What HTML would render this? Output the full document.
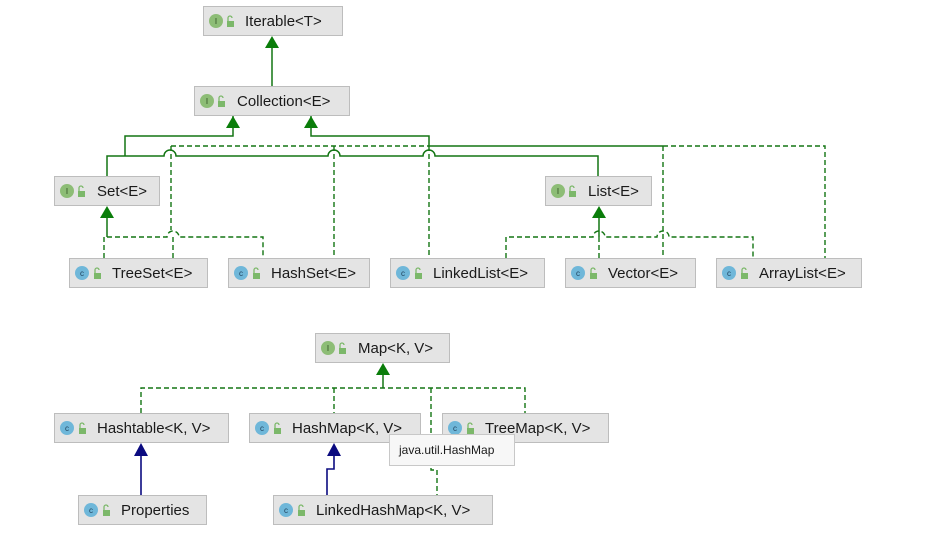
<!DOCTYPE html>
<html><head><meta charset="utf-8"><style>
html,body{margin:0;padding:0;background:#fff;}
svg{display:block;}
text{font-family:"Liberation Sans","DejaVu Sans",sans-serif;}
</style></head><body>
<svg width="941" height="551" viewBox="0 0 941 551" xmlns="http://www.w3.org/2000/svg">
<defs>
<g id="lock"><rect x="-3" y="-1" width="7" height="6" fill="#7cb86a"/><path d="M-2,-1 v-3 a2,2 0 0 1 4,0" fill="none" stroke="#7cb86a" stroke-width="1.3"/></g>
</defs>
<g fill="none" stroke="#137513" stroke-width="1.5">
<path d="M272,86 V44"/>
<path d="M233,116 V136 H125 V156"/>
<path d="M107,176 V156 H164 a6,6 0 0 1 12,0 H328 a6,6 0 0 1 12,0 H423 a6,6 0 0 1 12,0 H598 V176"/>
<path d="M311,116 V136 H429 V146 H663"/>
<path d="M107,218 V237"/>
<path d="M599,218 V237"/>
<path d="M383,375 V388"/>
</g>
<g fill="none" stroke="#137513" stroke-width="1.4" stroke-dasharray="5,3">
<path d="M171,146 H429"/>
<path d="M663,146 H825 V258"/>
<path d="M171,146 V230 M173,237 V258"/>
<path d="M334,146 V258"/>
<path d="M429,146 V258"/>
<path d="M663,146 V258"/>
<path d="M104,258 V237 H167 a6,6 0 0 1 12,0 H263 V258"/>
<path d="M506,258 V237 H593 a6,6 0 0 1 12,0 H657 a6,6 0 0 1 12,0 H753 V258"/>
<path d="M599,237 V258"/>
<path d="M141,413 V388 H525 V413"/>
<path d="M334,388 V413"/>
<path d="M431,388 V470 H437 V495"/>
</g>
<g fill="#0a7d0a">
<polygon points="272,36 265,48 279,48"/>
<polygon points="233,116 226,128 240,128"/>
<polygon points="311,116 304,128 318,128"/>
<polygon points="107,206 100,218 114,218"/>
<polygon points="599,206 592,218 606,218"/>
<polygon points="383,363 376,375 390,375"/>
</g>
<g fill="none" stroke="#0b0b80" stroke-width="1.6">
<path d="M141,495 V454"/>
<path d="M327,495 V469 H334 V454"/>
</g>
<g fill="#0b0b80">
<polygon points="141,443 134,456 148,456"/>
<polygon points="334,443 327,456 341,456"/>
</g>
<g font-size="15" fill="#1a1a1a">
<g><rect x="203.5" y="6.5" width="139" height="29" fill="#e4e4e4" stroke="#bdbdbd"/><circle cx="216" cy="21" r="7" fill="#8dbd76"/><text x="216" y="24" font-size="8" text-anchor="middle" fill="#2b4a1f">I</text><use href="#lock" x="230" y="22"/><text x="245" y="26">Iterable&lt;T&gt;</text></g>
<g><rect x="194.5" y="86.5" width="155" height="29" fill="#e4e4e4" stroke="#bdbdbd"/><circle cx="207" cy="101" r="7" fill="#8dbd76"/><text x="207" y="104" font-size="8" text-anchor="middle" fill="#2b4a1f">I</text><use href="#lock" x="221" y="102"/><text x="237" y="106">Collection&lt;E&gt;</text></g>
<g><rect x="54.5" y="176.5" width="105" height="29" fill="#e4e4e4" stroke="#bdbdbd"/><circle cx="67" cy="191" r="7" fill="#8dbd76"/><text x="67" y="194" font-size="8" text-anchor="middle" fill="#2b4a1f">I</text><use href="#lock" x="81" y="192"/><text x="97" y="196">Set&lt;E&gt;</text></g>
<g><rect x="545.5" y="176.5" width="106" height="29" fill="#e4e4e4" stroke="#bdbdbd"/><circle cx="558" cy="191" r="7" fill="#8dbd76"/><text x="558" y="194" font-size="8" text-anchor="middle" fill="#2b4a1f">I</text><use href="#lock" x="572" y="192"/><text x="588" y="196">List&lt;E&gt;</text></g>
<g><rect x="69.5" y="258.5" width="138" height="29" fill="#e4e4e4" stroke="#bdbdbd"/><circle cx="82" cy="273" r="7" fill="#6fb7d9"/><text x="82" y="276" font-size="8" text-anchor="middle" fill="#1d3f5a">c</text><use href="#lock" x="97" y="274"/><text x="112" y="278">TreeSet&lt;E&gt;</text></g>
<g><rect x="228.5" y="258.5" width="141" height="29" fill="#e4e4e4" stroke="#bdbdbd"/><circle cx="241" cy="273" r="7" fill="#6fb7d9"/><text x="241" y="276" font-size="8" text-anchor="middle" fill="#1d3f5a">c</text><use href="#lock" x="256" y="274"/><text x="271" y="278">HashSet&lt;E&gt;</text></g>
<g><rect x="390.5" y="258.5" width="154" height="29" fill="#e4e4e4" stroke="#bdbdbd"/><circle cx="403" cy="273" r="7" fill="#6fb7d9"/><text x="403" y="276" font-size="8" text-anchor="middle" fill="#1d3f5a">c</text><use href="#lock" x="418" y="274"/><text x="433" y="278">LinkedList&lt;E&gt;</text></g>
<g><rect x="565.5" y="258.5" width="130" height="29" fill="#e4e4e4" stroke="#bdbdbd"/><circle cx="578" cy="273" r="7" fill="#6fb7d9"/><text x="578" y="276" font-size="8" text-anchor="middle" fill="#1d3f5a">c</text><use href="#lock" x="593" y="274"/><text x="608" y="278">Vector&lt;E&gt;</text></g>
<g><rect x="716.5" y="258.5" width="145" height="29" fill="#e4e4e4" stroke="#bdbdbd"/><circle cx="729" cy="273" r="7" fill="#6fb7d9"/><text x="729" y="276" font-size="8" text-anchor="middle" fill="#1d3f5a">c</text><use href="#lock" x="744" y="274"/><text x="759" y="278">ArrayList&lt;E&gt;</text></g>
<g><rect x="315.5" y="333.5" width="134" height="29" fill="#e4e4e4" stroke="#bdbdbd"/><circle cx="328" cy="348" r="7" fill="#8dbd76"/><text x="328" y="351" font-size="8" text-anchor="middle" fill="#2b4a1f">I</text><use href="#lock" x="342" y="349"/><text x="358" y="353">Map&lt;K, V&gt;</text></g>
<g><rect x="54.5" y="413.5" width="174" height="29" fill="#e4e4e4" stroke="#bdbdbd"/><circle cx="67" cy="428" r="7" fill="#6fb7d9"/><text x="67" y="431" font-size="8" text-anchor="middle" fill="#1d3f5a">c</text><use href="#lock" x="82" y="429"/><text x="97" y="433">Hashtable&lt;K, V&gt;</text></g>
<g><rect x="249.5" y="413.5" width="171" height="29" fill="#e4e4e4" stroke="#bdbdbd"/><circle cx="262" cy="428" r="7" fill="#6fb7d9"/><text x="262" y="431" font-size="8" text-anchor="middle" fill="#1d3f5a">c</text><use href="#lock" x="277" y="429"/><text x="292" y="433">HashMap&lt;K, V&gt;</text></g>
<g><rect x="442.5" y="413.5" width="166" height="29" fill="#e4e4e4" stroke="#bdbdbd"/><circle cx="455" cy="428" r="7" fill="#6fb7d9"/><text x="455" y="431" font-size="8" text-anchor="middle" fill="#1d3f5a">c</text><use href="#lock" x="470" y="429"/><text x="485" y="433">TreeMap&lt;K, V&gt;</text></g>
<g><rect x="78.5" y="495.5" width="128" height="29" fill="#e4e4e4" stroke="#bdbdbd"/><circle cx="91" cy="510" r="7" fill="#6fb7d9"/><text x="91" y="513" font-size="8" text-anchor="middle" fill="#1d3f5a">c</text><use href="#lock" x="106" y="511"/><text x="121" y="515">Properties</text></g>
<g><rect x="273.5" y="495.5" width="219" height="29" fill="#e4e4e4" stroke="#bdbdbd"/><circle cx="286" cy="510" r="7" fill="#6fb7d9"/><text x="286" y="513" font-size="8" text-anchor="middle" fill="#1d3f5a">c</text><use href="#lock" x="301" y="511"/><text x="316" y="515">LinkedHashMap&lt;K, V&gt;</text></g>
</g>
<rect x="389.5" y="434.5" width="125" height="31" fill="#f7f7f7" stroke="#c8c8c8"/>
<text x="399" y="454" font-size="12" fill="#1a1a1a">java.util.HashMap</text>
</svg>
</body></html>
